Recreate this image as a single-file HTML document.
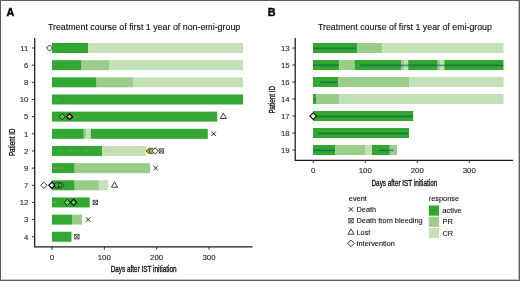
<!DOCTYPE html><html><head><meta charset="utf-8"><style>html,body{margin:0;padding:0;background:#fff;overflow:hidden}svg{display:block;will-change:transform}text{font-family:"Liberation Sans",sans-serif}</style></head><body>
<svg width="520" height="281" viewBox="0 0 520 281">
<rect x="0" y="0" width="520" height="281" fill="#fff"/>
<text x="6.6" y="15.7" font-size="10.8" font-weight="bold" fill="#000" stroke="#000" stroke-width="0.35">A</text>
<text x="267.8" y="16.2" font-size="10.8" font-weight="bold" fill="#000" stroke="#000" stroke-width="0.35">B</text>
<text x="47.9" y="29.8" font-size="8.86" fill="#111111" stroke="#111111" stroke-width="0.12">Treatment course of first 1 year of non-emi-group</text>
<text x="317.9" y="29.8" font-size="8.82" fill="#111111" stroke="#111111" stroke-width="0.12">Treatment course of first 1 year of emi-group</text>
<rect x="52.00" y="43.00" width="36.00" height="10.0" fill="#32a832"/>
<rect x="88.00" y="43.00" width="155.00" height="10.0" fill="#c3e0b6"/>
<rect x="52.00" y="60.16" width="29.00" height="10.0" fill="#32a832"/>
<rect x="81.00" y="60.16" width="28.00" height="10.0" fill="#9bcd8a"/>
<rect x="109.00" y="60.16" width="134.00" height="10.0" fill="#c3e0b6"/>
<rect x="52.00" y="77.32" width="44.60" height="10.0" fill="#32a832"/>
<rect x="96.60" y="77.32" width="36.40" height="10.0" fill="#9bcd8a"/>
<rect x="133.00" y="77.32" width="110.00" height="10.0" fill="#c3e0b6"/>
<rect x="52.00" y="94.48" width="191.00" height="10.0" fill="#32a832"/>
<rect x="52.00" y="111.64" width="165.20" height="10.0" fill="#32a832"/>
<rect x="52.00" y="128.80" width="31.80" height="10.0" fill="#32a832"/>
<rect x="83.80" y="128.80" width="2.70" height="10.0" fill="#9bcd8a"/>
<rect x="86.50" y="128.80" width="4.30" height="10.0" fill="#c3e0b6"/>
<rect x="90.80" y="128.80" width="117.00" height="10.0" fill="#32a832"/>
<rect x="52.00" y="145.96" width="50.00" height="10.0" fill="#32a832"/>
<rect x="102.00" y="145.96" width="44.20" height="10.0" fill="#c3e0b6"/>
<rect x="52.00" y="163.12" width="22.70" height="10.0" fill="#32a832"/>
<rect x="74.70" y="163.12" width="75.40" height="10.0" fill="#9bcd8a"/>
<rect x="52.00" y="180.28" width="22.70" height="10.0" fill="#32a832"/>
<rect x="74.70" y="180.28" width="24.20" height="10.0" fill="#9bcd8a"/>
<rect x="98.90" y="180.28" width="9.10" height="10.0" fill="#c3e0b6"/>
<rect x="52.00" y="197.44" width="37.70" height="10.0" fill="#32a832"/>
<rect x="52.00" y="214.60" width="20.00" height="10.0" fill="#32a832"/>
<rect x="72.00" y="214.60" width="10.00" height="10.0" fill="#9bcd8a"/>
<rect x="52.00" y="231.76" width="19.50" height="10.0" fill="#32a832"/>
<path d="M34.7 38V246.9H252.5" fill="none" stroke="#1a1a1a" stroke-width="1.25"/>
<path d="M31.9 48.00H34.7" stroke="#1a1a1a" stroke-width="0.9"/>
<text x="28.4" y="50.75" font-size="7.75" text-anchor="end" fill="#2a2a2a" stroke="#2a2a2a" stroke-width="0.12">11</text>
<path d="M31.9 65.16H34.7" stroke="#1a1a1a" stroke-width="0.9"/>
<text x="28.4" y="67.91" font-size="7.75" text-anchor="end" fill="#2a2a2a" stroke="#2a2a2a" stroke-width="0.12">6</text>
<path d="M31.9 82.32H34.7" stroke="#1a1a1a" stroke-width="0.9"/>
<text x="28.4" y="85.07" font-size="7.75" text-anchor="end" fill="#2a2a2a" stroke="#2a2a2a" stroke-width="0.12">8</text>
<path d="M31.9 99.48H34.7" stroke="#1a1a1a" stroke-width="0.9"/>
<text x="28.4" y="102.23" font-size="7.75" text-anchor="end" fill="#2a2a2a" stroke="#2a2a2a" stroke-width="0.12">10</text>
<path d="M31.9 116.64H34.7" stroke="#1a1a1a" stroke-width="0.9"/>
<text x="28.4" y="119.39" font-size="7.75" text-anchor="end" fill="#2a2a2a" stroke="#2a2a2a" stroke-width="0.12">5</text>
<path d="M31.9 133.80H34.7" stroke="#1a1a1a" stroke-width="0.9"/>
<text x="28.4" y="136.55" font-size="7.75" text-anchor="end" fill="#2a2a2a" stroke="#2a2a2a" stroke-width="0.12">1</text>
<path d="M31.9 150.96H34.7" stroke="#1a1a1a" stroke-width="0.9"/>
<text x="28.4" y="153.71" font-size="7.75" text-anchor="end" fill="#2a2a2a" stroke="#2a2a2a" stroke-width="0.12">2</text>
<path d="M31.9 168.12H34.7" stroke="#1a1a1a" stroke-width="0.9"/>
<text x="28.4" y="170.87" font-size="7.75" text-anchor="end" fill="#2a2a2a" stroke="#2a2a2a" stroke-width="0.12">9</text>
<path d="M31.9 185.28H34.7" stroke="#1a1a1a" stroke-width="0.9"/>
<text x="28.4" y="188.03" font-size="7.75" text-anchor="end" fill="#2a2a2a" stroke="#2a2a2a" stroke-width="0.12">7</text>
<path d="M31.9 202.44H34.7" stroke="#1a1a1a" stroke-width="0.9"/>
<text x="28.4" y="205.19" font-size="7.75" text-anchor="end" fill="#2a2a2a" stroke="#2a2a2a" stroke-width="0.12">12</text>
<path d="M31.9 219.60H34.7" stroke="#1a1a1a" stroke-width="0.9"/>
<text x="28.4" y="222.35" font-size="7.75" text-anchor="end" fill="#2a2a2a" stroke="#2a2a2a" stroke-width="0.12">3</text>
<path d="M31.9 236.76H34.7" stroke="#1a1a1a" stroke-width="0.9"/>
<text x="28.4" y="239.51" font-size="7.75" text-anchor="end" fill="#2a2a2a" stroke="#2a2a2a" stroke-width="0.12">4</text>
<path d="M52.00 246.9V249.8" stroke="#1a1a1a" stroke-width="0.9"/>
<text x="52.00" y="259.5" font-size="7.9" text-anchor="middle" fill="#2a2a2a" stroke="#2a2a2a" stroke-width="0.12">0</text>
<path d="M104.33 246.9V249.8" stroke="#1a1a1a" stroke-width="0.9"/>
<text x="104.33" y="259.5" font-size="7.9" text-anchor="middle" fill="#2a2a2a" stroke="#2a2a2a" stroke-width="0.12">100</text>
<path d="M156.66 246.9V249.8" stroke="#1a1a1a" stroke-width="0.9"/>
<text x="156.66" y="259.5" font-size="7.9" text-anchor="middle" fill="#2a2a2a" stroke="#2a2a2a" stroke-width="0.12">200</text>
<path d="M208.99 246.9V249.8" stroke="#1a1a1a" stroke-width="0.9"/>
<text x="208.99" y="259.5" font-size="7.9" text-anchor="middle" fill="#2a2a2a" stroke="#2a2a2a" stroke-width="0.12">300</text>
<text transform="translate(110.7 272.1) scale(0.743 1)" font-size="8.6" fill="#111111" stroke="#111111" stroke-width="0.32">Days after IST initiation</text>
<text transform="translate(14.5 156.1) rotate(-90) scale(0.73 1)" font-size="8.6" fill="#111111" stroke="#111111" stroke-width="0.32">Patient ID</text>
<path d="M54.60 99.48H60.00" stroke="#a0c850" stroke-opacity="0.35" stroke-width="0.9"/>
<path d="M52.00 168.12H63.40" stroke="#d0a040" stroke-opacity="0.55" stroke-width="1.0"/>
<path d="M57.00 150.96H62.00" stroke="#8fd080" stroke-opacity="0.35" stroke-width="0.9"/>
<path d="M66.00 150.96H72.00" stroke="#8fd080" stroke-opacity="0.35" stroke-width="0.9"/>
<path d="M75.00 150.96H79.00" stroke="#8fd080" stroke-opacity="0.35" stroke-width="0.9"/>
<path d="M83.00 150.96H88.00" stroke="#8fd080" stroke-opacity="0.35" stroke-width="0.9"/>
<path d="M103.00 150.96H110.00" stroke="#a8b8a0" stroke-opacity="0.4" stroke-width="0.9"/>
<path d="M52.00 202.44H57.00" stroke="#9cd090" stroke-opacity="0.35" stroke-width="0.9"/>
<path d="M70.00 116.64H79.00" stroke="#c8a860" stroke-opacity="0.4" stroke-width="0.9"/>
<path d="M146.00 150.96H155.00" stroke="#c89a40" stroke-opacity="0.9" stroke-width="1.2"/>
<path d="M46.40 48.00L49.50 44.90L52.60 48.00L49.50 51.10Z" fill="#fff" fill-opacity="1.0" stroke="#2a2a2a" stroke-width="1.0"/>
<path d="M59.10 116.64L62.20 113.54L65.30 116.64L62.20 119.74Z" fill="#d8c890" fill-opacity="0.35" stroke="#0e400e" stroke-width="1.0"/>
<path d="M66.40 116.64L69.50 113.54L72.60 116.64L69.50 119.74Z" fill="#c8a878" fill-opacity="1.0" stroke="#000" stroke-width="1.15"/>
<path d="M223.30 113.14L226.35 118.48L220.25 118.48Z" fill="none" stroke="#2a2a2a" stroke-width="0.9"/>
<path d="M211.55 131.65L215.85 135.95M211.55 135.95L215.85 131.65" stroke="#222" stroke-width="1.0" fill="none"/>
<path d="M146.30 150.96L149.40 147.86L152.50 150.96L149.40 154.06Z" fill="#b89a38" fill-opacity="1.0" stroke="#2a5020" stroke-width="1.0"/>
<path d="M148.90 150.96L152.00 147.86L155.10 150.96L152.00 154.06Z" fill="#c8a848" fill-opacity="0.85" stroke="#2f5a22" stroke-width="1.0"/>
<path d="M152.20 150.96L155.30 147.86L158.40 150.96L155.30 154.06Z" fill="#fff" fill-opacity="1.0" stroke="#333" stroke-width="1.0"/>
<rect x="159.20" y="148.76" width="4.40" height="4.40" fill="none" stroke="#3a3a3a" stroke-width="0.75"/>
<path d="M159.20 148.76L163.60 153.16M159.20 153.16L163.60 148.76" stroke="#222" stroke-width="0.85" fill="none"/>
<path d="M153.45 165.97L157.75 170.27M153.45 170.27L157.75 165.97" stroke="#222" stroke-width="1.0" fill="none"/>
<path d="M40.70 185.28L43.80 182.18L46.90 185.28L43.80 188.38Z" fill="#fff" fill-opacity="1.0" stroke="#333" stroke-width="1.0"/>
<path d="M58.00 185.28L61.10 182.18L64.20 185.28L61.10 188.38Z" fill="#fff" fill-opacity="0.15" stroke="#145014" stroke-width="1.0"/>
<path d="M56.10 185.28L59.20 182.18L62.30 185.28L59.20 188.38Z" fill="#fff" fill-opacity="0.15" stroke="#0a3a0a" stroke-width="1.0"/>
<path d="M53.40 185.28L56.50 182.18L59.60 185.28L56.50 188.38Z" fill="#fff" fill-opacity="0.2" stroke="#052a05" stroke-width="1.0"/>
<path d="M48.80 185.28L51.90 182.18L55.00 185.28L51.90 188.38Z" fill="#fff" fill-opacity="0.65" stroke="#000" stroke-width="1.15"/>
<path d="M114.50 181.88L117.55 187.22L111.45 187.22Z" fill="none" stroke="#2a2a2a" stroke-width="0.9"/>
<path d="M64.20 202.44L67.30 199.34L70.40 202.44L67.30 205.54Z" fill="#fff" fill-opacity="0.3" stroke="#062e06" stroke-width="1.0"/>
<path d="M70.50 202.44L73.60 199.34L76.70 202.44L73.60 205.54Z" fill="#fff" fill-opacity="0.3" stroke="#000" stroke-width="1.1"/>
<rect x="93.10" y="200.24" width="4.40" height="4.40" fill="none" stroke="#3a3a3a" stroke-width="0.75"/>
<path d="M93.10 200.24L97.50 204.64M93.10 204.64L97.50 200.24" stroke="#222" stroke-width="0.85" fill="none"/>
<path d="M86.05 217.45L90.35 221.75M86.05 221.75L90.35 217.45" stroke="#222" stroke-width="1.0" fill="none"/>
<rect x="74.70" y="234.56" width="4.40" height="4.40" fill="none" stroke="#3a3a3a" stroke-width="0.75"/>
<path d="M74.70 234.56L79.10 238.96M74.70 238.96L79.10 234.56" stroke="#222" stroke-width="0.85" fill="none"/>
<rect x="313.00" y="43.00" width="44.00" height="10.0" fill="#32a832"/>
<rect x="357.00" y="43.00" width="25.50" height="10.0" fill="#9bcd8a"/>
<rect x="382.50" y="43.00" width="121.00" height="10.0" fill="#c3e0b6"/>
<rect x="313.00" y="60.00" width="26.20" height="10.0" fill="#32a832"/>
<rect x="339.20" y="60.00" width="15.30" height="10.0" fill="#9bcd8a"/>
<rect x="354.50" y="60.00" width="47.00" height="10.0" fill="#32a832"/>
<rect x="401.50" y="60.00" width="2.50" height="10.0" fill="#9bcd8a"/>
<rect x="404.00" y="60.00" width="4.20" height="10.0" fill="#c3e0b6"/>
<rect x="408.20" y="60.00" width="29.50" height="10.0" fill="#32a832"/>
<rect x="437.70" y="60.00" width="2.30" height="10.0" fill="#9bcd8a"/>
<rect x="440.00" y="60.00" width="4.30" height="10.0" fill="#c3e0b6"/>
<rect x="444.30" y="60.00" width="59.20" height="10.0" fill="#32a832"/>
<rect x="313.00" y="77.00" width="25.50" height="10.0" fill="#32a832"/>
<rect x="338.50" y="77.00" width="70.90" height="10.0" fill="#9bcd8a"/>
<rect x="409.40" y="77.00" width="94.10" height="10.0" fill="#c3e0b6"/>
<rect x="313.00" y="94.00" width="3.50" height="10.0" fill="#32a832"/>
<rect x="316.50" y="94.00" width="23.10" height="10.0" fill="#9bcd8a"/>
<rect x="339.60" y="94.00" width="163.90" height="10.0" fill="#c3e0b6"/>
<rect x="313.00" y="111.00" width="100.20" height="10.0" fill="#32a832"/>
<rect x="313.00" y="128.00" width="96.00" height="10.0" fill="#32a832"/>
<rect x="313.00" y="145.00" width="22.10" height="10.0" fill="#32a832"/>
<rect x="335.10" y="145.00" width="30.40" height="10.0" fill="#9bcd8a"/>
<rect x="365.50" y="145.00" width="6.50" height="10.0" fill="#c3e0b6"/>
<rect x="372.00" y="145.00" width="17.80" height="10.0" fill="#32a832"/>
<rect x="389.80" y="145.00" width="7.20" height="10.0" fill="#9bcd8a"/>
<path d="M313.00 48.30H355.80" stroke="#005050" stroke-opacity="0.52" stroke-width="1.7"/>
<path d="M313.00 65.30H338.50" stroke="#005050" stroke-opacity="0.52" stroke-width="1.7"/>
<path d="M360.40 65.30H503.30" stroke="#005050" stroke-opacity="0.52" stroke-width="1.7"/>
<path d="M320.00 82.30H337.30" stroke="#005050" stroke-opacity="0.52" stroke-width="1.7"/>
<path d="M314.00 99.30H316.00" stroke="#005050" stroke-opacity="0.52" stroke-width="1.7"/>
<path d="M316.00 116.30H413.00" stroke="#005050" stroke-opacity="0.52" stroke-width="1.7"/>
<path d="M318.00 133.30H408.00" stroke="#005050" stroke-opacity="0.52" stroke-width="1.7"/>
<path d="M313.00 150.30H335.00" stroke="#005050" stroke-opacity="0.52" stroke-width="1.7"/>
<path d="M379.20 150.30H393.70" stroke="#005050" stroke-opacity="0.52" stroke-width="1.7"/>
<path d="M295.2 38V160.3H513" fill="none" stroke="#1a1a1a" stroke-width="1.25"/>
<path d="M292.4 48.00H295.2" stroke="#1a1a1a" stroke-width="0.9"/>
<text x="289.6" y="50.75" font-size="7.75" text-anchor="end" fill="#2a2a2a" stroke="#2a2a2a" stroke-width="0.12">13</text>
<path d="M292.4 65.00H295.2" stroke="#1a1a1a" stroke-width="0.9"/>
<text x="289.6" y="67.75" font-size="7.75" text-anchor="end" fill="#2a2a2a" stroke="#2a2a2a" stroke-width="0.12">15</text>
<path d="M292.4 82.00H295.2" stroke="#1a1a1a" stroke-width="0.9"/>
<text x="289.6" y="84.75" font-size="7.75" text-anchor="end" fill="#2a2a2a" stroke="#2a2a2a" stroke-width="0.12">16</text>
<path d="M292.4 99.00H295.2" stroke="#1a1a1a" stroke-width="0.9"/>
<text x="289.6" y="101.75" font-size="7.75" text-anchor="end" fill="#2a2a2a" stroke="#2a2a2a" stroke-width="0.12">14</text>
<path d="M292.4 116.00H295.2" stroke="#1a1a1a" stroke-width="0.9"/>
<text x="289.6" y="118.75" font-size="7.75" text-anchor="end" fill="#2a2a2a" stroke="#2a2a2a" stroke-width="0.12">17</text>
<path d="M292.4 133.00H295.2" stroke="#1a1a1a" stroke-width="0.9"/>
<text x="289.6" y="135.75" font-size="7.75" text-anchor="end" fill="#2a2a2a" stroke="#2a2a2a" stroke-width="0.12">18</text>
<path d="M292.4 150.00H295.2" stroke="#1a1a1a" stroke-width="0.9"/>
<text x="289.6" y="152.75" font-size="7.75" text-anchor="end" fill="#2a2a2a" stroke="#2a2a2a" stroke-width="0.12">19</text>
<path d="M313.30 160.3V163" stroke="#1a1a1a" stroke-width="0.9"/>
<text x="313.30" y="172.6" font-size="7.9" text-anchor="middle" fill="#2a2a2a" stroke="#2a2a2a" stroke-width="0.12">0</text>
<path d="M365.30 160.3V163" stroke="#1a1a1a" stroke-width="0.9"/>
<text x="365.30" y="172.6" font-size="7.9" text-anchor="middle" fill="#2a2a2a" stroke="#2a2a2a" stroke-width="0.12">100</text>
<path d="M417.30 160.3V163" stroke="#1a1a1a" stroke-width="0.9"/>
<text x="417.30" y="172.6" font-size="7.9" text-anchor="middle" fill="#2a2a2a" stroke="#2a2a2a" stroke-width="0.12">200</text>
<path d="M469.30 160.3V163" stroke="#1a1a1a" stroke-width="0.9"/>
<text x="469.30" y="172.6" font-size="7.9" text-anchor="middle" fill="#2a2a2a" stroke="#2a2a2a" stroke-width="0.12">300</text>
<text transform="translate(371.5 185.8) scale(0.743 1)" font-size="8.6" fill="#111111" stroke="#111111" stroke-width="0.32">Days after IST initiation</text>
<text transform="translate(275.0 113.6) rotate(-90) scale(0.73 1)" font-size="8.6" fill="#111111" stroke="#111111" stroke-width="0.32">Patient ID</text>
<path d="M309.90 116.20L313.20 112.90L316.50 116.20L313.20 119.50Z" fill="#eef0dc" fill-opacity="1.0" stroke="#1a1a1a" stroke-width="1.2"/>
<text x="348.8" y="200.6" font-size="7.35" fill="#111111" stroke="#111111" stroke-width="0.1">event</text>
<path d="M348.85 207.25L353.15 211.55M348.85 211.55L353.15 207.25" stroke="#222" stroke-width="1.0" fill="none"/>
<rect x="348.80" y="218.50" width="4.40" height="4.40" fill="none" stroke="#3a3a3a" stroke-width="0.75"/>
<path d="M348.80 218.50L353.20 222.90M348.80 222.90L353.20 218.50" stroke="#222" stroke-width="0.85" fill="none"/>
<path d="M351.00 228.90L354.05 234.23L347.95 234.23Z" fill="none" stroke="#2a2a2a" stroke-width="0.9"/>
<path d="M347.70 243.40L351.00 240.10L354.30 243.40L351.00 246.70Z" fill="#fff" fill-opacity="1.0" stroke="#333" stroke-width="1.0"/>
<text x="356.5" y="211.90" font-size="7.35" fill="#111111" stroke="#111111" stroke-width="0.1">Death</text>
<text x="356.5" y="223.20" font-size="7.35" fill="#111111" stroke="#111111" stroke-width="0.1">Death from bleeding</text>
<text x="356.5" y="234.60" font-size="7.35" fill="#111111" stroke="#111111" stroke-width="0.1">Lost</text>
<text x="356.5" y="245.90" font-size="7.35" fill="#111111" stroke="#111111" stroke-width="0.1">Intervention</text>
<text x="428.8" y="200.6" font-size="7.35" fill="#111111" stroke="#111111" stroke-width="0.1">response</text>
<rect x="428.8" y="205.50" width="10.2" height="10.2" fill="#32a832"/>
<text x="442.5" y="213.20" font-size="7.35" fill="#111111" stroke="#111111" stroke-width="0.1">active</text>
<rect x="428.8" y="216.70" width="10.2" height="10.2" fill="#9bcd8a"/>
<text x="442.5" y="224.40" font-size="7.35" fill="#111111" stroke="#111111" stroke-width="0.1">PR</text>
<rect x="428.8" y="227.90" width="10.2" height="10.2" fill="#c3e0b6"/>
<text x="442.5" y="235.60" font-size="7.35" fill="#111111" stroke="#111111" stroke-width="0.1">CR</text>
<path d="M518.5 1V280M1 279.5H519" stroke="#c4c4c4" stroke-width="1" fill="none"/>
<rect x="0.5" y="0.5" width="519" height="280" fill="none" stroke="#5c5c5c" stroke-width="1"/>
</svg></body></html>
